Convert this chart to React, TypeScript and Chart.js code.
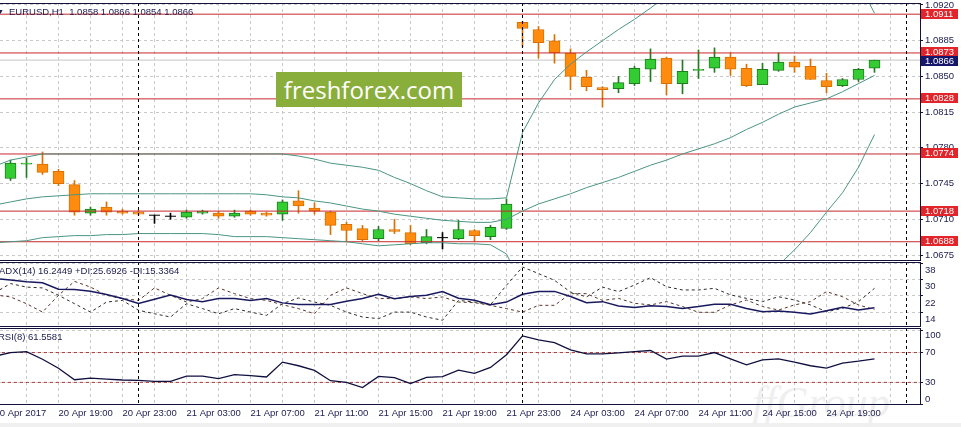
import React, { useEffect, useRef } from 'react';
import { Chart, registerables } from 'chart.js';

Chart.register(...registerables);

// ---------------- data ----------------
// EURUSD H1 candles, bar 0 = 20 Apr 16:00 ... bar 54 = 24 Apr 22:00
const openP = [
  1.0750, 1.0764, 1.0764, 1.0757, 1.0744, 1.0716, 1.0722, 1.0718, 1.0717, 1.0714,
  1.0713, 1.0712, 1.0716, 1.0716, 1.0713, 1.0718, 1.0716, 1.0715, 1.0728, 1.0721,
  1.0717, 1.0705, 1.0701, 1.0691, 1.0700, 1.0697, 1.0687, 1.0692, 1.0691, 1.0699,
  1.0693, 1.0701, 1.0903, 1.0896, 1.0885, 1.0873, 1.0849, 1.0839, 1.0838, 1.0843,
  1.0857, 1.0868, 1.0843, 1.0856, 1.0858, 1.0869, 1.0858, 1.0842, 1.0856, 1.0864,
  1.0860, 1.0846, 1.0841, 1.0847, 1.0858,
];
const highP = [
  1.0768, 1.0770, 1.0776, 1.0759, 1.0748, 1.0722, 1.0727, 1.0720, 1.0719, 1.0714,
  1.0716, 1.0719, 1.0719, 1.0718, 1.0719, 1.0719, 1.0717, 1.0729, 1.0738, 1.0726,
  1.0718, 1.0707, 1.0704, 1.0703, 1.0710, 1.0704, 1.0700, 1.0697, 1.0709, 1.0700,
  1.0704, 1.0730, 1.0904, 1.0899, 1.0891, 1.0877, 1.0856, 1.0840, 1.0850, 1.0860,
  1.0877, 1.0869, 1.0866, 1.0876, 1.0878, 1.0873, 1.0862, 1.0863, 1.0873, 1.0870,
  1.0867, 1.0853, 1.0848, 1.0858, 1.0866,
];
const lowP = [
  1.0748, 1.0751, 1.0754, 1.0743, 1.0714, 1.0714, 1.0714, 1.0715, 1.0714, 1.0706,
  1.0710, 1.0711, 1.0715, 1.0711, 1.0712, 1.0714, 1.0713, 1.0709, 1.0716, 1.0715,
  1.0695, 1.0688, 1.0689, 1.0689, 1.0696, 1.0685, 1.0686, 1.0681, 1.0690, 1.0688,
  1.0690, 1.0700, 1.0879, 1.0868, 1.0863, 1.0837, 1.0836, 1.0820, 1.0834, 1.0841,
  1.0845, 1.0832, 1.0833, 1.0848, 1.0854, 1.0851, 1.0840, 1.0842, 1.0855, 1.0854,
  1.0847, 1.0834, 1.0840, 1.0845, 1.0854,
];
const closeP = [
  1.0765, 1.0765, 1.0756, 1.0745, 1.0717, 1.0720, 1.0717, 1.0716, 1.0715, 1.0714,
  1.0713, 1.0717, 1.0718, 1.0713, 1.0716, 1.0715, 1.0714, 1.0727, 1.0723, 1.0718,
  1.0704, 1.0699, 1.0690, 1.0700, 1.0698, 1.0686, 1.0693, 1.0692, 1.0700, 1.0694,
  1.0702, 1.0725, 1.0897, 1.0883, 1.0873, 1.0850, 1.0840, 1.0837, 1.0844, 1.0858,
  1.0867, 1.0843, 1.0855, 1.0857, 1.0869, 1.0857, 1.0841, 1.0857, 1.0864, 1.0859,
  1.0847, 1.0840, 1.0847, 1.0857, 1.0866,
];

// indicator series start one bar earlier (bar -1, partly off the left edge)
const indicatorStartBar = -1;
const bbUpper = [
  1.0762, 1.0768, 1.0771, 1.0774, 1.0774, 1.0774, 1.0774, 1.0774, 1.0774, 1.0774,
  1.0774, 1.0774, 1.0774, 1.0774, 1.0774, 1.0774, 1.0774, 1.0774, 1.0774, 1.0772,
  1.0769, 1.0765, 1.0763, 1.0761, 1.0758, 1.0751, 1.0745, 1.0738, 1.0732, 1.0731,
  1.0730, 1.0730, 1.0731, 1.0795, 1.0824, 1.0847, 1.0862, 1.0874, 1.0885, 1.0896,
  1.0906, 1.0917, 1.0929, 1.0939, 1.0946, 1.0952, 1.0957, 1.0960, 1.0962, 1.0962,
  1.0960, 1.0956, 1.0952, 1.0948, 1.0942, 1.0912,
];
const bbMiddle = [
  1.0724, 1.0727, 1.0730, 1.0732, 1.0733, 1.0734, 1.0735, 1.0735, 1.0735, 1.0735,
  1.0735, 1.0735, 1.0735, 1.0735, 1.0735, 1.0735, 1.0735, 1.0734, 1.0732, 1.0731,
  1.0728, 1.0726, 1.0723, 1.0720, 1.0718, 1.0715, 1.0713, 1.0711, 1.0709, 1.0708,
  1.0707, 1.0707, 1.0710, 1.0718, 1.0725, 1.0730, 1.0735, 1.0741, 1.0746, 1.0751,
  1.0757, 1.0763, 1.0768, 1.0774, 1.0779, 1.0784, 1.0790, 1.0798, 1.0805, 1.0813,
  1.0820, 1.0824, 1.0828, 1.0835, 1.0843, 1.0851,
];
const bbLower = [
  1.0687, 1.0688, 1.0689, 1.0692, 1.0693, 1.0694, 1.0694, 1.0695, 1.0695, 1.0696,
  1.0696, 1.0696, 1.0696, 1.0696, 1.0695, 1.0693, 1.0693, 1.0693, 1.0692, 1.0691,
  1.0690, 1.0689, 1.0688, 1.0686, 1.0684, 1.0685, 1.0686, 1.0687, 1.0687, 1.0686,
  1.0686, 1.0685, 1.0676, 1.0644, 1.0626, 1.0613, 1.0607, 1.0607, 1.0606, 1.0606,
  1.0608, 1.0609, 1.0607, 1.0609, 1.0611, 1.0615, 1.0622, 1.0635, 1.0649, 1.0665,
  1.0680, 1.0697, 1.0717, 1.0736, 1.0761, 1.0793,
];
const adxMain = [
  30.5, 29.7, 28.9, 28.4, 25.3, 25.1, 24.3, 22.7, 20.7, 18.3,
  20.4, 22.4, 20.2, 19.1, 20.7, 20.7, 19.8, 20.7, 18.6, 17.8,
  17.8, 17.8, 19.4, 20.7, 22.8, 20.6, 21.7, 22.3, 24.1, 20.9,
  19.9, 17.7, 19.0, 22.8, 24.2, 24.2, 21.7, 18.7, 19.2, 17.1,
  16.4, 17.2, 16.8, 15.9, 16.8, 17.9, 17.9, 15.9, 14.3, 14.6,
  14.0, 13.2, 14.8, 16.4, 15.1, 16.2,
];
const adxPlusDI = [
  23.5, 28.0, 26.3, 25.9, 22.3, 18.2, 14.1, 19.0, 19.8, 15.0,
  13.3, 11.7, 18.2, 15.8, 13.3, 15.8, 14.1, 12.5, 18.2, 21.0,
  19.0, 17.4, 14.1, 11.7, 10.9, 14.1, 14.1, 11.7, 10.1, 19.8,
  19.0, 17.7, 27.2, 36.1, 32.9, 29.6, 23.9, 21.5, 26.3, 24.1,
  27.3, 30.9, 26.5, 24.9, 24.9, 25.7, 22.5, 20.8, 19.2, 21.6,
  20.0, 17.6, 14.3, 15.9, 19.2, 25.7,
];
const adxMinusDI = [
  22.5, 21.5, 18.2, 14.1, 22.3, 29.1, 26.3, 22.3, 20.7, 19.8,
  25.9, 22.3, 19.0, 20.7, 25.9, 23.1, 20.7, 19.8, 17.7, 15.8,
  13.3, 22.3, 25.9, 23.1, 20.7, 20.7, 21.5, 20.7, 21.5, 19.0,
  18.7, 17.4, 15.8, 14.1, 17.4, 17.4, 23.1, 23.1, 19.8, 20.8,
  18.4, 17.6, 19.2, 16.8, 14.0, 14.0, 17.6, 20.0, 16.8, 15.1,
  17.6, 19.2, 24.1, 21.6, 17.6, 15.3,
];
const rsiValues = [
  65, 70, 71.3, 61, 49, 33.6, 35.8, 34.5, 33.2, 32.7,
  31.4, 31.4, 38.5, 38.5, 35, 40.3, 39, 37.2, 57.2, 52.3,
  46, 32.3, 30, 23, 38, 36.3, 28.3, 36.7, 37.6, 46.5,
  42, 50, 67, 92.3, 87, 83.4, 73.6, 68.3, 68.3, 69.6,
  71.3, 72.7, 61.2, 65.2, 65.2, 70, 61.6, 53.6, 60.3, 61.6,
  57.2, 52.3, 49.1, 55.9, 58.5, 61.6,
];

const levelPrices = [1.0911, 1.0873, 1.0828, 1.0774, 1.0718, 1.0688];
const bidPrice = 1.0866;
const priceTicks = [1.0675, 1.0710, 1.0745, 1.0780, 1.0815, 1.0850, 1.0885, 1.0920];
const adxTicks = [14, 22, 30, 38];
const rsiTicks = [0, 30, 70, 100];
const rsiLevels = [70, 30];
const separatorBars = [8, 32, 56];
const labelBars = [-1, 3, 7, 11, 15, 19, 23, 27, 31, 35, 39, 43, 47, 51];
const timeLabels = [
  '20 Apr 2017', '20 Apr 19:00', '20 Apr 23:00', '21 Apr 03:00', '21 Apr 07:00',
  '21 Apr 11:00', '21 Apr 15:00', '21 Apr 19:00', '21 Apr 23:00', '24 Apr 03:00',
  '24 Apr 07:00', '24 Apr 11:00', '24 Apr 15:00', '24 Apr 19:00',
];

// ---------------- layout / style ----------------
const W = 961;
const AXIS_W = 41;
const X_MIN = -0.65625;
const X_MAX = 56.84375;
const PRICE_MIN = 1.066912;
const PRICE_MAX = 1.092196;
const ADX_MIN = 6.83;
const ADX_MAX = 38.54;
const RSI_MIN = -0.3;
const RSI_MAX = 102.9;
const RSI_TOP = 328;

const FONT = 'Liberation Sans';
const TEXT = '#1c1c50';
const GRID = '#c9c9c9';
const BORDER = '#12123a';
const LEVEL_LINE = '#c8282d';
const LEVEL_BOX = '#e2252b';
const BID_BOX = '#16166a';
const BB = '#4b9583';
const UP_FILL = '#33cc33';
const UP_LINE = '#1e7e1e';
const DOWN_FILL = '#ff8c0f';
const DOWN_LINE = '#d97000';

const gridBars = Array.from({ length: 29 }, (_, k) => -1 + 2 * k);
const seriesPoints = (arr: number[]) => arr.map((v, k) => ({ x: indicatorStartBar + k, y: v }));

function xScale(showLabels: boolean): any {
  return {
    type: 'linear',
    min: X_MIN,
    max: X_MAX,
    offset: false,
    bounds: 'data',
    grid: { color: GRID, lineWidth: 1, drawTicks: false, offset: false },
    border: { display: false, dash: [3, 3] },
    afterBuildTicks: (s: any) => {
      s.ticks = gridBars.map((v) => ({ value: v }));
    },
    ticks: {
      display: showLabels,
      autoSkip: false,
      maxRotation: 0,
      minRotation: 0,
      align: 'start',
      padding: 3,
      color: TEXT,
      font: { family: FONT, size: 9.5 },
      callback: (v: number) => {
        const k = labelBars.indexOf(v);
        return k >= 0 ? timeLabels[k] : '';
      },
    },
    afterFit: (s: any) => {
      s.height = showLabels ? 22 : 0;
      s.paddingLeft = 0;
      s.paddingRight = 0;
    },
  };
}

function yScale(min: number, max: number, tickVals: number[], fmt: any, tickExtra: any = {}): any {
  return {
    type: 'linear',
    position: 'right',
    min,
    max,
    bounds: 'data',
    grid: { color: GRID, lineWidth: 1, drawTicks: true, tickLength: 3, tickColor: BORDER, tickWidth: 1 },
    border: { display: false, dash: [3, 3] },
    afterBuildTicks: (s: any) => {
      s.ticks = tickVals.map((v) => ({ value: v }));
    },
    ticks: {
      autoSkip: false,
      padding: 2,
      color: TEXT,
      font: { family: FONT, size: 9.5, lineHeight: 1.2 },
      callback: fmt,
      ...tickExtra,
    },
    afterFit: (s: any) => {
      s.width = AXIS_W;
      s.paddingTop = 0;
      s.paddingBottom = 0;
    },
  };
}

const panelPlugin = {
  id: 'panelFrame',
  afterDatasetsDraw(chart: any) {
    const { ctx, chartArea: a, scales } = chart;
    ctx.save();
    ctx.beginPath();
    ctx.rect(a.left, a.top, a.right - a.left, a.bottom - a.top);
    ctx.clip();
    ctx.strokeStyle = '#000';
    ctx.lineWidth = 1;
    ctx.setLineDash([3, 3]);
    separatorBars.forEach((b) => {
      const x = Math.round(scales.x.getPixelForValue(b) - 0.5) + 0.5;
      ctx.beginPath();
      ctx.moveTo(x, a.top);
      ctx.lineTo(x, a.bottom);
      ctx.stroke();
    });
    ctx.restore();
  },
  afterDraw(chart: any) {
    const { ctx, chartArea: a } = chart;
    ctx.save();
    ctx.strokeStyle = BORDER;
    ctx.lineWidth = 1;
    ctx.setLineDash([]);
    ctx.strokeRect(-1.5, a.top + 0.5, a.right + 2, a.bottom - a.top - 1);
    ctx.restore();
  },
};

const priceBoxPlugin = {
  id: 'priceBoxes',
  afterDraw(chart: any) {
    const { ctx, chartArea: a, scales } = chart;
    ctx.save();
    ctx.font = `9.5px ${FONT}`;
    ctx.textAlign = 'left';
    ctx.textBaseline = 'middle';
    const box = (price: number, bg: string, lift: number) => {
      const top = Math.round(scales.y.getPixelForValue(price) - lift);
      ctx.fillStyle = bg;
      ctx.fillRect(a.right + 1, top, 37, 10);
      ctx.fillStyle = '#ffffff';
      ctx.fillText(price.toFixed(4), a.right + 5, top + 5);
    };
    levelPrices.forEach((p) => box(p, LEVEL_BOX, 5.5));
    box(bidPrice, BID_BOX, 4);
    ctx.restore();
  },
};

const baseOptions = (padTop: number) => ({
  responsive: false,
  animation: false,
  events: [],
  layout: { autoPadding: false, padding: { top: padTop, left: 0, right: 0, bottom: 0 } },
  plugins: { legend: { display: false }, tooltip: { enabled: false }, title: { display: false } },
});

function lineDs(points: any[], color: string, width: number, order: number, dash: number[] = []): any {
  return {
    type: 'line',
    data: points,
    borderColor: color,
    borderWidth: width,
    borderDash: dash,
    pointRadius: 0,
    pointHoverRadius: 0,
    tension: 0,
    fill: false,
    order,
  };
}

function mainConfig(): any {
  const idx = openP.map((_, i) => i);
  const kind = (i: number) => (closeP[i] > openP[i] ? 'up' : closeP[i] < openP[i] ? 'down' : 'doji');
  const bodyIdx = idx.filter((i) => kind(i) !== 'doji');
  const dojiIdx = idx.filter((i) => kind(i) === 'doji');
  const lineColor = (i: number) => (kind(i) === 'up' ? UP_LINE : kind(i) === 'down' ? DOWN_LINE : '#000000');

  const datasets: any[] = [
    lineDs([{ x: X_MIN - 1, y: bidPrice }, { x: X_MAX + 1, y: bidPrice }], '#c4c4c4', 1, 9),
    {
      type: 'bar',
      data: idx.map((i) => ({ x: i, y: [lowP[i], highP[i]] })),
      backgroundColor: idx.map(lineColor),
      borderWidth: 0,
      barThickness: 1,
      grouped: false,
      order: 8,
    },
    {
      type: 'bar',
      data: bodyIdx.map((i) => ({ x: i, y: [openP[i], closeP[i]] })),
      backgroundColor: bodyIdx.map((i) => (kind(i) === 'up' ? UP_FILL : DOWN_FILL)),
      borderColor: bodyIdx.map(lineColor),
      borderWidth: 1,
      borderSkipped: false,
      barThickness: 11,
      grouped: false,
      order: 7,
    },
    {
      type: 'line',
      data: dojiIdx.map((i) => ({ x: i, y: openP[i] })),
      showLine: false,
      pointStyle: 'line',
      pointRadius: 5.5,
      pointBorderColor: '#000000',
      pointBorderWidth: 1,
      pointHoverRadius: 0,
      order: 6,
    },
  ];
  levelPrices.forEach((p) => {
    datasets.push(lineDs([{ x: X_MIN - 1, y: p }, { x: X_MAX + 1, y: p }], LEVEL_LINE, 1, 3));
  });
  datasets.push(lineDs(seriesPoints(bbUpper), BB, 1, 1));
  datasets.push(lineDs(seriesPoints(bbMiddle), BB, 1, 1));
  datasets.push(lineDs(seriesPoints(bbLower), BB, 1, 1));

  return {
    type: 'line',
    data: { datasets },
    options: {
      ...baseOptions(3),
      scales: {
        x: xScale(false),
        y: yScale(PRICE_MIN, PRICE_MAX, priceTicks, (v: number) => v.toFixed(4)),
      },
    },
    plugins: [panelPlugin, priceBoxPlugin],
  };
}

function adxConfig(): any {
  return {
    type: 'line',
    data: {
      datasets: [
        lineDs(seriesPoints(adxPlusDI), '#2e2e2e', 1, 3, [3, 3]),
        lineDs(seriesPoints(adxMinusDI), '#5a3426', 1, 2, [3, 3]),
        lineDs(seriesPoints(adxMain), '#191960', 1.5, 1),
      ],
    },
    options: {
      ...baseOptions(0),
      scales: {
        x: xScale(false),
        y: yScale(ADX_MIN, ADX_MAX, adxTicks, (v: number) => String(v), { labelOffset: 7 }),
      },
    },
    plugins: [panelPlugin],
  };
}

function rsiConfig(): any {
  const datasets: any[] = rsiLevels.map((lv) =>
    lineDs([{ x: X_MIN - 1, y: lv }, { x: X_MAX + 1, y: lv }], '#b03a3a', 1, 3, [3, 3])
  );
  datasets.push(lineDs(seriesPoints(rsiValues), '#101040', 1.3, 1));
  return {
    type: 'line',
    data: { datasets },
    options: {
      ...baseOptions(0),
      scales: {
        x: xScale(true),
        // top label sits just below its level, bottom label just above (inside the panel)
        y: yScale(RSI_MIN, RSI_MAX, rsiTicks, (v: number) =>
          v === 100 ? [' ', '100'] : v === 0 ? ['0', ' '] : String(v)
        ),
      },
    },
    plugins: [panelPlugin],
  };
}

export default function App() {
  const mainRef = useRef<HTMLCanvasElement>(null);
  const adxRef = useRef<HTMLCanvasElement>(null);
  const rsiRef = useRef<HTMLCanvasElement>(null);

  useEffect(() => {
    const charts = [
      new Chart(mainRef.current as HTMLCanvasElement, mainConfig()),
      new Chart(adxRef.current as HTMLCanvasElement, adxConfig()),
      new Chart(rsiRef.current as HTMLCanvasElement, rsiConfig()),
    ];
    return () => charts.forEach((c) => c.destroy());
  }, []);

  const label: React.CSSProperties = {
    position: 'absolute',
    fontFamily: FONT,
    fontSize: '9.5px',
    lineHeight: '11px',
    color: TEXT,
    whiteSpace: 'nowrap',
  };

  return (
    <div
      style={{
        position: 'absolute',
        left: 0,
        top: 0,
        width: W,
        height: 427,
        background: '#ffffff',
        overflow: 'hidden',
      }}
    >
      <div style={{ position: 'absolute', left: 0, top: 423, width: W, height: 4, background: '#f0f0f0' }} />
      <div
        style={{
          position: 'absolute',
          left: 752,
          top: 378,
          fontFamily: 'Liberation Serif',
          fontStyle: 'italic',
          fontSize: '44px',
          lineHeight: '50px',
          color: '#efefef',
          whiteSpace: 'nowrap',
        }}
      >
        ffGroup
      </div>
      <canvas ref={mainRef} width={W} height={261} style={{ position: 'absolute', left: 0, top: 0, display: 'block' }} />
      <canvas ref={adxRef} width={W} height={65} style={{ position: 'absolute', left: 0, top: 262, display: 'block' }} />
      <canvas ref={rsiRef} width={W} height={427 - RSI_TOP} style={{ position: 'absolute', left: 0, top: RSI_TOP, display: 'block' }} />

      <div style={{ ...label, left: -3, top: 6, fontSize: '7px' }}>▼</div>
      <div style={{ ...label, left: 9, top: 6 }}>EURUSD,H1&nbsp;&nbsp;1.0858 1.0866 1.0854 1.0866</div>
      <div style={{ ...label, left: -1, top: 265 }}>ADX(14) 16.2449 +DI:25.6926 -DI:15.3364</div>
      <div style={{ ...label, left: -2, top: 331 }}>RSI(8) 61.5581</div>

      <div
        style={{
          position: 'absolute',
          left: 276,
          top: 72,
          width: 186,
          height: 35,
          background: '#8aae3b',
          color: '#ffffff',
          fontFamily: 'Open Sans',
          fontSize: '24px',
          lineHeight: '35px',
          textAlign: 'center',
          whiteSpace: 'nowrap',
        }}
      >
        freshforex.com
      </div>
    </div>
  );
}
